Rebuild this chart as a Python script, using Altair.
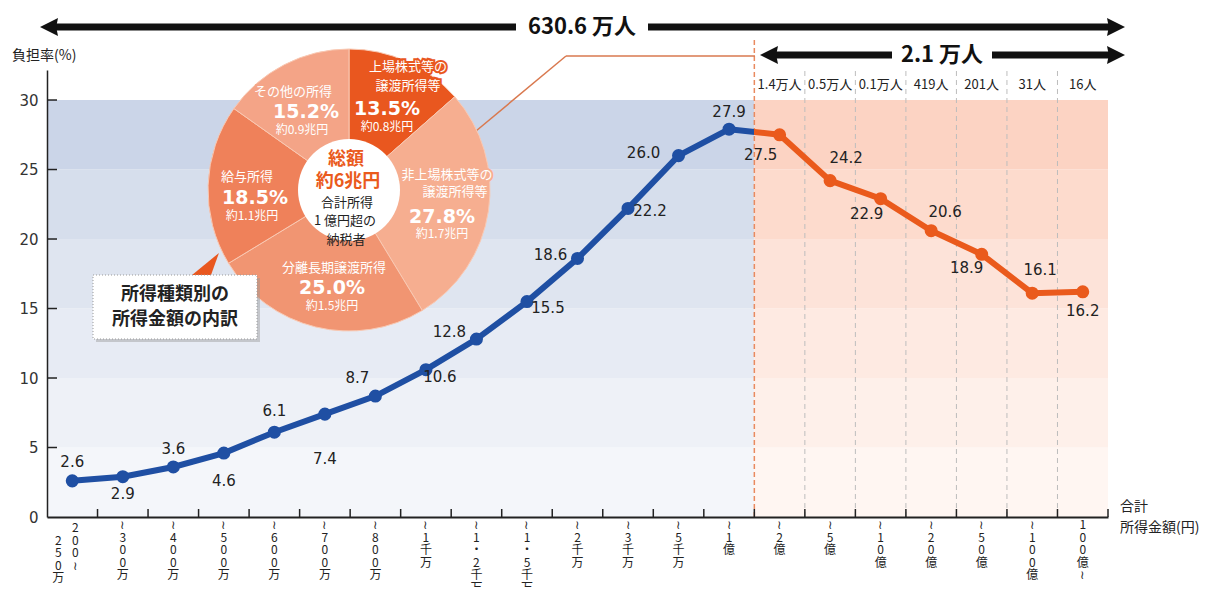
import altair as alt
import pandas as pd

# ---------------- data ----------------
CATEGORIES = ["200~250万", "~300万", "~400万", "~500万", "~600万", "~700万", "~800万",
              "~1千万", "~1.2千万", "~1.5千万", "~2千万", "~3千万", "~5千万", "~1億",
              "~2億", "~5億", "~10億", "~20億", "~50億", "~100億", "100億~"]
RATES = [2.6, 2.9, 3.6, 4.6, 6.1, 7.4, 8.7, 10.6, 12.8, 15.5, 18.6, 22.2, 26.0, 27.9,
         27.5, 24.2, 22.9, 20.6, 18.9, 16.1, 16.2]
N_UNDER_1OKU = 14
COUNTS_OVER_1OKU = ["1.4万人", "0.5万人", "0.1万人", "419人", "201人", "31人", "16人"]
TOTAL_PEOPLE = "630.6 万人"
OVER_PEOPLE = "2.1 万人"
Y_TICKS = [0, 5, 10, 15, 20, 25, 30]
Y_TITLE = "負担率(%)"
X_TITLE = ["合計", "所得金額(円)"]

PIE_NAMES = ["上場株式等の\n譲渡所得等", "非上場株式等の\n譲渡所得等", "分離長期譲渡所得", "給与所得", "その他の所得"]
PIE_SHARES = [13.5, 27.8, 25.0, 18.5, 15.2]
PIE_AMOUNTS = ["約0.8兆円", "約1.7兆円", "約1.5兆円", "約1.1兆円", "約0.9兆円"]
PIE_CENTER = ["総額", "約6兆円", "合計所得", "1 億円超の", "納税者"]
CALLOUT = ["所得種類別の", "所得金額の内訳"]

# ---------------- styles / layout ----------------
W, H = 1061, 447
YMAX = 32.16
NCAT = len(CATEGORIES)
PX_X = W / NCAT
PX_Y = H / YMAX
BLUE = "#1f4fa3"
ORANGE = "#ea5a1c"
BLUE_BANDS = ["#f4f6fa", "#eef1f7", "#e7ebf4", "#dfe5f0", "#d6deec", "#cbd5e8"]
ORANGE_BANDS = ["#fff6f2", "#fef0ea", "#feeae2", "#fde3d9", "#fddbcd", "#fcd3c3"]
PIE_COLORS = ["#e9571f", "#f6ae90", "#f19572", "#ef815a", "#f4a487"]
LABEL_DX = [0, 0, 0, 0, 0, 0, -18, 14, -27, 21, -27, 22, -35, 0, -19, 16, -14, 14, -15, 8, 0]
LABEL_DY = [-19, 17, -18, 28, -21, 45, -18, 7, -7, 6, -3, 3, -3, -17, 20, -23, 15, -19, 14, -23, 19]
JP = "Noto Sans CJK JP"
NUM = "DejaVu Sans"
PIE_CX, PIE_CY, PIE_R, PIE_IR = 302, 120, 141, 51
PIE_NAME_XY = [[(361, -3), (361, 16)], [(400, 105), (408, 122)], [(287, 198)], [(200, 107)], [(246, 22)]]
PIE_PCT_XY = [(340, 39), (395, 147), (285, 218), (208, 128), (259, 42)]
PIE_AMT_XY = [(340, 57), (395, 164), (285, 236), (205, 146), (255, 60)]
PIE_CENTER_XY = [(299, 90), (301, 112), (300, 133), (298, 151), (299, 170)]

xs = alt.Scale(domain=[-0.5, NCAT - 0.5], nice=False, zero=False)
ys = alt.Scale(domain=[0, YMAX], nice=False, zero=True)
X_AXIS = alt.Axis(title=None, labels=False, ticks=False, grid=False, domainColor="#222",
                  domainWidth=2, zindex=1)
Y_AXIS = alt.Axis(title=None, values=Y_TICKS, ticks=False, grid=False, labelFont=NUM,
                  labelFontSize=15, labelColor="#333", labelPadding=9, domainColor="#222",
                  domainWidth=1.5, zindex=1)


def XQ(f):
    return alt.X(f, type="quantitative", scale=xs, axis=X_AXIS)


def YQ(f):
    return alt.Y(f, type="quantitative", scale=ys, axis=Y_AXIS)


one = pd.DataFrame({"k": [0]})


def txt(t, x, y, **kw):
    return alt.Chart(pd.DataFrame({"t": [t]})).mark_text(**kw).encode(
        x=alt.value(x), y=alt.value(y), text="t:N")


# ---------------- background bands ----------------
band_rows = []
for k in range(len(Y_TICKS) - 1):
    band_rows.append(dict(x0=-0.5, x1=N_UNDER_1OKU - 0.5, y0=Y_TICKS[k], y1=Y_TICKS[k + 1], c=BLUE_BANDS[k]))
    band_rows.append(dict(x0=N_UNDER_1OKU - 0.5, x1=NCAT - 0.5, y0=Y_TICKS[k], y1=Y_TICKS[k + 1], c=ORANGE_BANDS[k]))
bands = alt.Chart(pd.DataFrame(band_rows)).mark_rect().encode(
    x=XQ("x0"), x2="x1:Q", y=YQ("y0"), y2="y1:Q", color=alt.Color("c:N", scale=None))

grey_dash = alt.Chart(pd.DataFrame({"b": [i + 0.5 for i in range(N_UNDER_1OKU, NCAT - 1)]})).mark_rule(
    color="#bdbdbd", strokeDash=[5, 4], strokeWidth=1).encode(x=XQ("b"), y=alt.value(H), y2=alt.value(-2))
orange_dash = alt.Chart(pd.DataFrame({"b": [N_UNDER_1OKU - 0.5]})).mark_rule(
    color="#e98a5f", strokeDash=[5, 3], strokeWidth=1.5).encode(x=XQ("b"), y=alt.value(H), y2=alt.value(-32))
x_ticks = alt.Chart(pd.DataFrame({"b": [i + 0.5 for i in range(NCAT)]})).mark_rule(
    color="#222", strokeWidth=1.5).encode(x=XQ("b"), y=alt.value(H), y2=alt.value(H - 8))
y_ticks = alt.Chart(pd.DataFrame({"t": Y_TICKS[1:]})).mark_rule(
    color="#222", strokeWidth=1.5).encode(y=YQ("t"), x=alt.value(0), x2=alt.value(10))

conn1 = alt.Chart(one).mark_rule(color="#d9794f", strokeWidth=1.5).encode(
    x=alt.value(429), y=alt.value(61), x2=alt.value(519), y2=alt.value(-14))
conn2 = alt.Chart(one).mark_rule(color="#d9794f", strokeWidth=1.5).encode(
    x=alt.value(519), y=alt.value(-14), x2=alt.value(708), y2=alt.value(-14))

# ---------------- lines ----------------
df = pd.DataFrame({"idx": list(range(NCAT)), "rate": RATES, "cat": CATEGORIES,
                   "dx": LABEL_DX, "dy": LABEL_DY})
df["txt"] = [f"{v:.1f}" for v in RATES]
under = df[df.idx < N_UNDER_1OKU]
over = df[df.idx >= N_UNDER_1OKU]
junction = df[(df.idx == N_UNDER_1OKU - 1) | (df.idx == N_UNDER_1OKU)]

line_blue = alt.Chart(under).mark_line(color=BLUE, strokeWidth=6).encode(x=XQ("idx"), y=YQ("rate"))
line_orange = alt.Chart(over).mark_line(color=ORANGE, strokeWidth=6).encode(x=XQ("idx"), y=YQ("rate"))
grad = alt.LinearGradient(gradient="linear", x1=0, x2=1, y1=0, y2=0, stops=[
    alt.GradientStop(color=BLUE, offset=0), alt.GradientStop(color=BLUE, offset=0.5),
    alt.GradientStop(color=ORANGE, offset=0.5), alt.GradientStop(color=ORANGE, offset=1)])
line_join = alt.Chart(junction).mark_line(stroke=grad, strokeWidth=6).encode(x=XQ("idx"), y=YQ("rate"))
pts_blue = alt.Chart(under).mark_circle(size=170, color=BLUE, opacity=1).encode(x=XQ("idx"), y=YQ("rate"))
pts_orange = alt.Chart(over).mark_circle(size=170, color=ORANGE, opacity=1).encode(x=XQ("idx"), y=YQ("rate"))
val_labels = alt.Chart(df).transform_calculate(
    lx=f"datum.idx + datum.dx / {PX_X}", ly=f"datum.rate - datum.dy / {PX_Y}"
).mark_text(font=NUM, fontSize=15, color="#222", baseline="middle").encode(
    x=XQ("lx"), y=YQ("ly"), text="txt:N")


# ---------------- x labels (vertical) ----------------
def vertical(s):
    return "\n".join(s.replace("~", "≀").replace(".", "・"))


XL_STYLE = dict(font=JP, fontSize=12, lineHeight=12.6, lineBreak="\n", baseline="top", color="#222")
xl = pd.DataFrame({"idx": list(range(1, NCAT)), "vt": [vertical(c) for c in CATEGORIES[1:]]})
xlab = alt.Chart(xl).mark_text(**XL_STYLE).encode(x=XQ("idx"), y=alt.value(H + 3), text="vt:N")
first_lo, first_hi = CATEGORIES[0].split("~")
xl0r = alt.Chart(pd.DataFrame({"idx": [0], "vt": [vertical(first_lo + "~")]})).mark_text(
    dx=3, **XL_STYLE).encode(x=XQ("idx"), y=alt.value(H + 6), text="vt:N")
xl0l = alt.Chart(pd.DataFrame({"idx": [0], "vt": [vertical(first_hi)]})).mark_text(
    dx=-14, **XL_STYLE).encode(x=XQ("idx"), y=alt.value(H + 18.6), text="vt:N")

counts = alt.Chart(pd.DataFrame({"idx": list(range(N_UNDER_1OKU, NCAT)), "t": COUNTS_OVER_1OKU})).mark_text(
    font=JP, fontSize=13, color="#222").encode(x=XQ("idx"), y=alt.value(15), text="t:N")

titles = [
    txt(Y_TITLE, -35, -14, font=JP, fontSize=14, color="#222", align="left"),
    txt(X_TITLE[0], 1073, 437, font=JP, fontSize=14, color="#222", align="left"),
    txt(X_TITLE[1], 1073, 458, font=JP, fontSize=14, color="#222", align="left"),
]


# ---------------- header arrows ----------------
def arrow(x_left, x_right, y, label, cx, half_gap):
    return [
        alt.Chart(one).mark_rule(color="#111", strokeWidth=7).encode(
            x=alt.value(x_left + 8), x2=alt.value(x_right - 8), y=alt.value(y)),
        alt.Chart(one).mark_point(shape="M -1 0 L 1 -1 L 0.8 0 L 1 1 Z", size=324, filled=True,
                                  color="#111", opacity=1).encode(x=alt.value(x_left + 9), y=alt.value(y)),
        alt.Chart(one).mark_point(shape="M 1 0 L -1 -1 L -0.8 0 L -1 1 Z", size=324, filled=True,
                                  color="#111", opacity=1).encode(x=alt.value(x_right - 9), y=alt.value(y)),
        alt.Chart(one).mark_rect(color="white").encode(
            x=alt.value(cx - half_gap), x2=alt.value(cx + half_gap), y=alt.value(y - 13), y2=alt.value(y + 13)),
        txt(label, cx, y, font=JP, fontSize=22, fontWeight="bold", color="#111", baseline="middle"),
    ]


hdr = arrow(-7, 1078, -43, TOTAL_PEOPLE, 535, 66) + arrow(713, 1078, -15, OVER_PEOPLE, 895, 50)

# ---------------- pie ----------------
pie_df = pd.DataFrame({"name": PIE_NAMES, "share": PIE_SHARES, "order": list(range(len(PIE_SHARES))),
                       "col": PIE_COLORS})
pie = alt.Chart(pie_df).mark_arc(radius=PIE_R, stroke="#f9c9b3", strokeWidth=1).encode(
    theta=alt.Theta("share:Q", stack=True), order=alt.Order("order:Q"),
    color=alt.Color("col:N", scale=None), x=alt.value(PIE_CX), y=alt.value(PIE_CY))
hole = alt.Chart(one).mark_circle(size=(2 * PIE_IR) ** 2, color="white", opacity=1).encode(
    x=alt.value(PIE_CX), y=alt.value(PIE_CY))

pie_texts = []
for i, nm in enumerate(PIE_NAMES):
    for line, (px, py) in zip(nm.split("\n"), PIE_NAME_XY[i]):
        pie_texts.append(txt(line, px, py, font=JP, fontSize=13, color=PIE_COLORS[i],
                             stroke=PIE_COLORS[i], strokeWidth=4, baseline="middle"))
        pie_texts.append(txt(line, px, py, font=JP, fontSize=13, color="white", baseline="middle"))
    pie_texts.append(txt(f"{PIE_SHARES[i]:.1f}%", PIE_PCT_XY[i][0], PIE_PCT_XY[i][1], font=NUM,
                         fontSize=19, fontWeight="bold", color="white", baseline="middle"))
    pie_texts.append(txt(PIE_AMOUNTS[i], PIE_AMT_XY[i][0], PIE_AMT_XY[i][1], font=JP,
                         fontSize=12, color="white", baseline="middle"))
for j, (t, (px, py)) in enumerate(zip(PIE_CENTER, PIE_CENTER_XY)):
    if j < 2:
        pie_texts.append(txt(t, px, py, font=JP, fontSize=18, fontWeight="bold", color=ORANGE, baseline="middle"))
    else:
        pie_texts.append(txt(t, px, py, font=JP, fontSize=13, color="#222", baseline="middle"))

# ---------------- callout ----------------
tri = alt.Chart(one).mark_point(shape="M -1.15 0.85 L 0.92 -0.85 L 0.31 0.85 Z", size=676, filled=True,
                                color="#e9571f", opacity=1).encode(x=alt.value(160), y=alt.value(194))
shadow = alt.Chart(one).mark_rect(color="#9a9a9a", opacity=0.45).encode(
    x=alt.value(49), x2=alt.value(213), y=alt.value(208), y2=alt.value(272))
box = alt.Chart(one).mark_rect(fill="white", stroke="#9a9a9a", strokeDash=[1, 2], strokeWidth=1).encode(
    x=alt.value(46), x2=alt.value(210), y=alt.value(205), y2=alt.value(269))
callout_txt = [txt(CALLOUT[0], 128, 225, font=JP, fontSize=18, fontWeight="bold", color="#222", baseline="middle"),
               txt(CALLOUT[1], 128, 250, font=JP, fontSize=18, fontWeight="bold", color="#222", baseline="middle")]

chart = alt.layer(
    bands, grey_dash, orange_dash, x_ticks, y_ticks, conn1, conn2,
    line_blue, line_orange, line_join, pts_blue, pts_orange, val_labels,
    pie, hole, *pie_texts,
    tri, shadow, box, *callout_txt,
    *hdr, counts, xlab, xl0r, xl0l, *titles,
).properties(
    width=W, height=H,
    padding={"left": 39, "top": 62, "right": 94, "bottom": 70},
    autosize=alt.AutoSizeParams(type="none"),
).configure_view(stroke=None)

chart.save("out.html", embed_options={"renderer": "svg", "actions": False})
